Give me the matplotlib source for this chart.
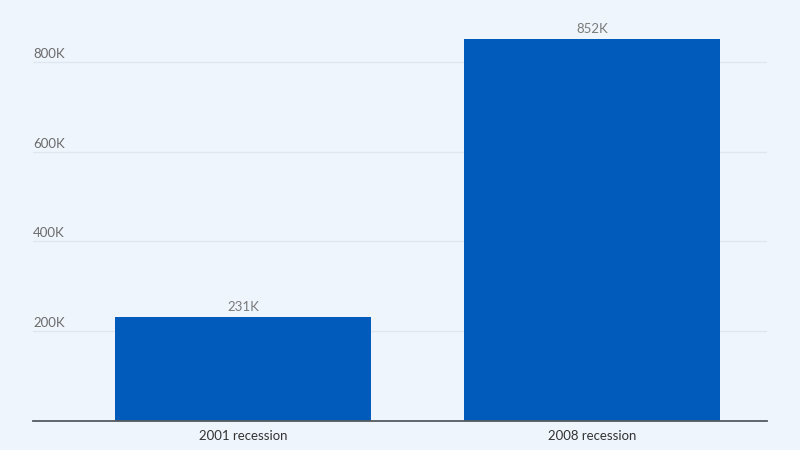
import matplotlib.pyplot as plt

categories = ["2001 recession", "2008 recession"]
values = [231000, 852000]
value_labels = ["231K", "852K"]
y_ticks = [200000, 400000, 600000, 800000]
y_tick_labels = ["200K", "400K", "600K", "800K"]

bg = "#eff5fd"
plt.rcParams['font.family'] = ['Lato', 'DejaVu Sans']

fig = plt.figure(figsize=(8, 4.5), dpi=100, facecolor=bg)
ax = fig.add_axes([33/800, 29.5/450, 734/800, 403/450], facecolor=bg)

x = list(range(len(categories)))
ax.bar(x, values, width=0.733, color="#005bbb", zorder=2)

ax.set_xlim(-0.602, 1.501)
ax.set_ylim(0, 900000)

# gridlines + labels drawn inside the plot on the left
for t, lab in zip(y_ticks, y_tick_labels):
    ax.axhline(t, color="#dfe6ef", lw=1, zorder=1)
    ax.text(0, t + 5000, lab, transform=ax.get_yaxis_transform(),
            ha="left", va="bottom", fontsize=9.5, color="#6b6b6b")

for xi, v, lab in zip(x, values, value_labels):
    ax.text(xi, v + 9000, lab, ha="center", va="bottom", fontsize=9.5, color="#7a7a7a")

ax.set_yticks([])
ax.set_xticks(x)
ax.set_xticklabels(categories, fontsize=9.5, color="#333333")
ax.tick_params(axis="x", length=0, pad=7)

for s in ["top", "right", "left"]:
    ax.spines[s].set_visible(False)
ax.spines["bottom"].set_color("#555a60")
ax.spines["bottom"].set_linewidth(1.3)
ax.spines["bottom"].set_zorder(3)

fig.savefig("out.png", dpi=100, facecolor=bg)
